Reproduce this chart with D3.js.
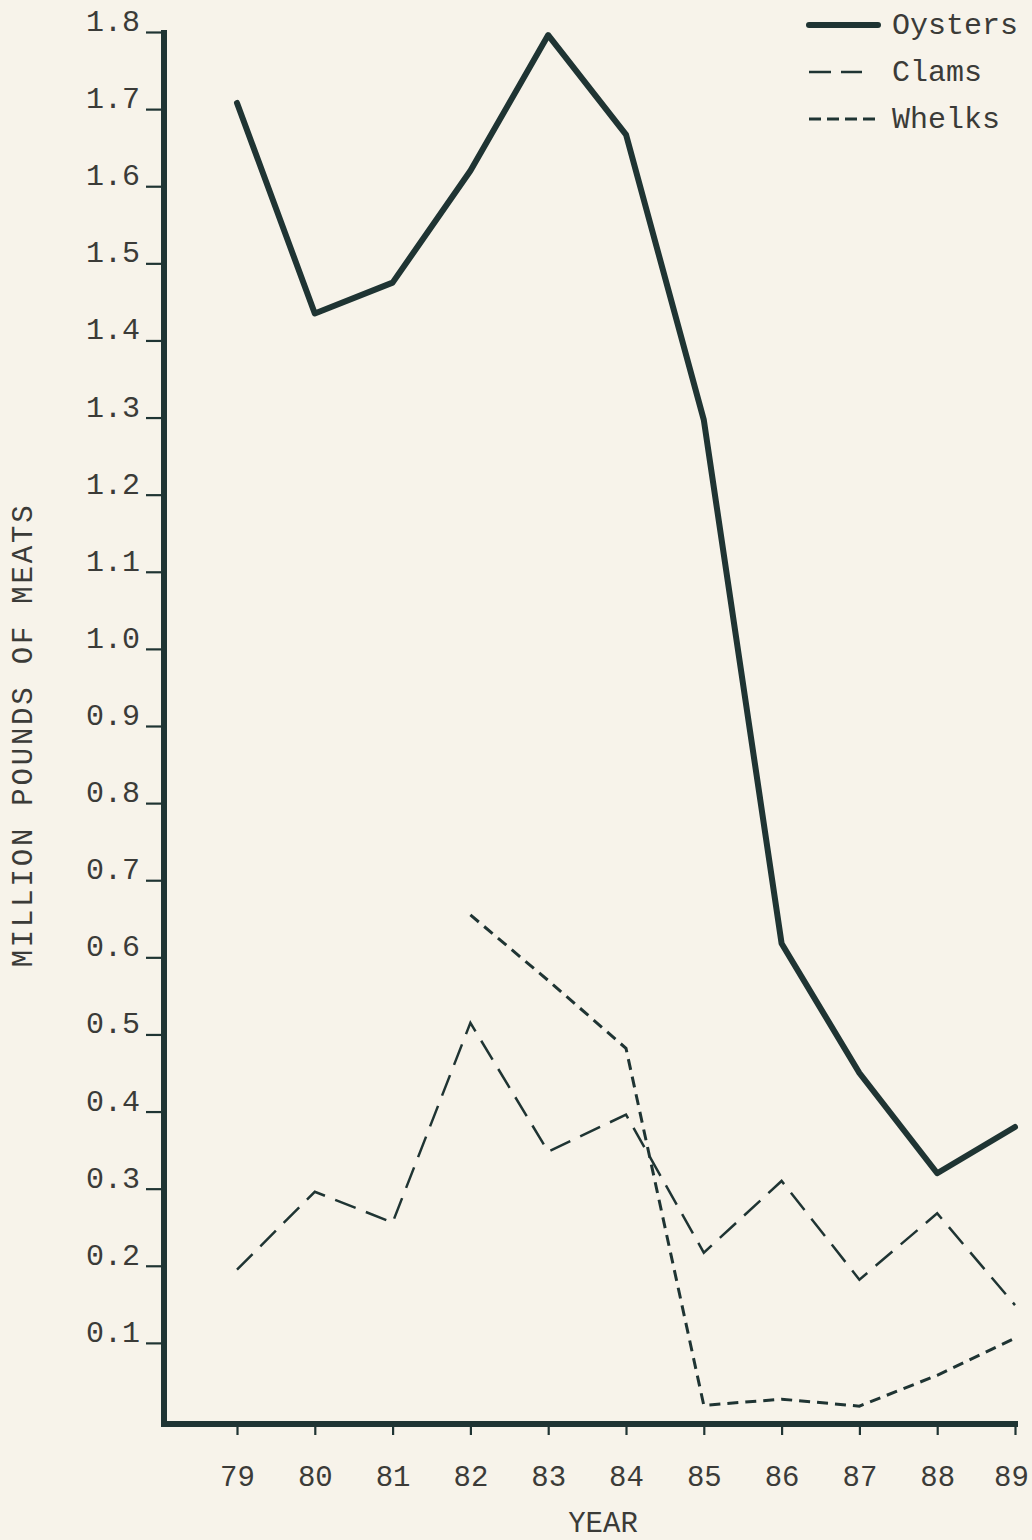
<!DOCTYPE html>
<html>
<head>
<meta charset="utf-8">
<script src="https://cdn.jsdelivr.net/npm/d3@7"></script>
<style>
  html, body { margin: 0; padding: 0; background: #f7f3ea; }
  svg { display: block; }
  text { font-family: "Liberation Mono", "Courier New", monospace; fill: #3b3b38; }
</style>
</head>
<body>
<script>
// ---- Data ----
const years = [79, 80, 81, 82, 83, 84, 85, 86, 87, 88, 89];
const oysters = [1.708, 1.435, 1.475, 1.62, 1.796, 1.667, 1.297, 0.618, 0.45, 0.32, 0.38];
const clams   = [0.195, 0.296, 0.256, 0.515, 0.348, 0.396, 0.217, 0.31, 0.182, 0.268, 0.149];
const whelkYears = [82, 83, 84, 85, 86, 87, 88, 89];
const whelks  = [0.655, 0.57, 0.482, 0.019, 0.027, 0.018, 0.058, 0.106];
const yTicks = [0.1, 0.2, 0.3, 0.4, 0.5, 0.6, 0.7, 0.8, 0.9, 1.0, 1.1, 1.2, 1.3, 1.4, 1.5, 1.6, 1.7, 1.8];
const legendItems = ["Oysters", "Clams", "Whelks"];

const W = 1032, H = 1540;
const ink = "#1f3433";
const FONT = "'Liberation Mono', 'Courier New', monospace";

const svg = d3.select("body").append("svg").attr("width", W).attr("height", H);

const x = d3.scaleLinear().domain([79, 89]).range([237, 1015]);
const y = d3.scaleLinear().domain([0, 1.8]).range([1420, 32]);
const axisX = 164, axisY = 1424;

// Y axis
const yAxis = d3.axisLeft(y).tickValues(yTicks).tickSize(18).tickPadding(6)
  .tickFormat(d3.format(".1f"));
const gy = svg.append("g").attr("transform", `translate(${axisX},0)`).call(yAxis);
gy.attr("font-family", FONT);
gy.select(".domain").remove();
gy.selectAll(".tick line").attr("stroke", ink).attr("stroke-width", 2.2);
gy.selectAll(".tick text").attr("font-size", 30).attr("dy", "-0.05em")
  .attr("font-family", FONT).attr("fill", "#3b3b38");

svg.append("line").attr("x1", axisX).attr("x2", axisX).attr("y1", 30).attr("y2", axisY + 3)
  .attr("stroke", ink).attr("stroke-width", 6);

// X axis
const xAxis = d3.axisBottom(x).tickValues(years).tickSize(11).tickPadding(30)
  .tickFormat(d => d);
const gx = svg.append("g").attr("transform", `translate(0,${axisY})`).call(xAxis);
gx.attr("font-family", FONT);
gx.select(".domain").remove();
gx.selectAll(".tick line").attr("stroke", ink).attr("stroke-width", 2.2);
gx.selectAll(".tick text").attr("font-size", 29).attr("font-family", FONT)
  .attr("fill", "#3b3b38")
  .attr("dx", d => d === 89 ? -4 : 0);

svg.append("line").attr("x1", axisX - 3).attr("x2", 1018).attr("y1", axisY).attr("y2", axisY)
  .attr("stroke", ink).attr("stroke-width", 6);

// Axis titles
svg.append("text").attr("x", 603).attr("y", 1532).attr("text-anchor", "middle")
  .attr("font-family", FONT).attr("font-size", 29).text("YEAR");
svg.append("text").attr("transform", "translate(32,735) rotate(-90)")
  .attr("text-anchor", "middle").attr("font-family", FONT).attr("font-size", 29)
  .attr("letter-spacing", 2.8).text("MILLION POUNDS OF MEATS");

// Lines
const line = d3.line().x(d => x(d[0])).y(d => y(d[1]));
svg.append("path").datum(years.map((yr, i) => [yr, oysters[i]]))
  .attr("d", line).attr("fill", "none").attr("stroke", ink)
  .attr("stroke-width", 6).attr("stroke-linejoin", "round").attr("stroke-linecap", "round");
svg.append("path").datum(years.map((yr, i) => [yr, clams[i]]))
  .attr("d", line).attr("fill", "none").attr("stroke", ink)
  .attr("stroke-width", 2.5).attr("stroke-dasharray", "22 11");
svg.append("path").datum(whelkYears.map((yr, i) => [yr, whelks[i]]))
  .attr("d", line).attr("fill", "none").attr("stroke", ink)
  .attr("stroke-width", 3).attr("stroke-dasharray", "11 7");

// Legend
const lg = svg.append("g");
const styles = [
  { w: 6, dash: null, x2: 878 },
  { w: 2.5, dash: "22 10", x2: 862 },
  { w: 3, dash: "12 6", x2: 876 }
];
legendItems.forEach((name, i) => {
  const ly = 25 + i * 47;
  const l = lg.append("line").attr("x1", 809).attr("x2", styles[i].x2).attr("y1", ly).attr("y2", ly)
    .attr("stroke", ink).attr("stroke-width", styles[i].w).attr("stroke-linecap", i === 0 ? "round" : "butt");
  if (styles[i].dash) l.attr("stroke-dasharray", styles[i].dash);
  lg.append("text").attr("x", 892).attr("y", ly + 9).attr("font-family", FONT)
    .attr("font-size", 30).text(name);
});
</script>
</body>
</html>
